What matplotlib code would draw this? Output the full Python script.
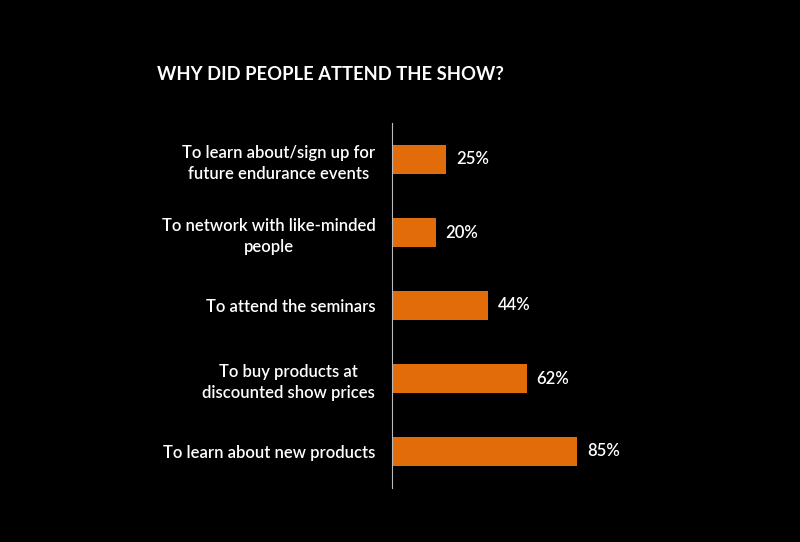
import matplotlib
matplotlib.use('Agg')
import matplotlib.pyplot as plt

plt.rcParams['font.family'] = ['Lato', 'DejaVu Sans']

# data, top to bottom
categories = [
    'To learn about/sign up for\nfuture endurance events',
    'To network with like-minded\npeople',
    'To attend the seminars',
    'To buy products at\ndiscounted show prices',
    'To learn about new products',
]
values = [25, 20, 44, 62, 85]
title = 'WHY DID PEOPLE ATTEND THE SHOW?'

ORANGE = '#E36C0A'

fig = plt.figure(figsize=(8, 5.42), dpi=100, facecolor='black')
ax = fig.add_axes([392 / 800, 1 - 488 / 542, 0.272, 365 / 542])
ax.set_facecolor('black')

pos = list(range(len(categories)))
ax.barh(pos, values, height=0.4, color=ORANGE)
ax.set_xlim(0, 100)
ax.set_ylim(4.5, -0.5)

for p, v in zip(pos, values):
    ax.text(v + 4.5, p, f'{v}%', color='white', fontsize=12, fontweight='semibold',
            va='center', ha='left')

ax.set_yticks(pos)
ax.set_yticklabels(categories, color='white', fontsize=12, fontweight='semibold',
                   ha='right', linespacing=1.35)
for lbl in ax.get_yticklabels():
    lbl.set_multialignment('center')
ax.tick_params(axis='y', length=0, pad=12)
ax.set_xticks([])
for s in ['top', 'right', 'bottom']:
    ax.spines[s].set_visible(False)
ax.spines['left'].set_color('#bbbbbb')
ax.spines['left'].set_linewidth(0.8)

fig.text(157 / 800, 1 - 75 / 542, title, color='white', fontsize=13.2, fontweight='bold',
         ha='left', va='center')

fig.savefig('out.png', dpi=100, facecolor='black')
